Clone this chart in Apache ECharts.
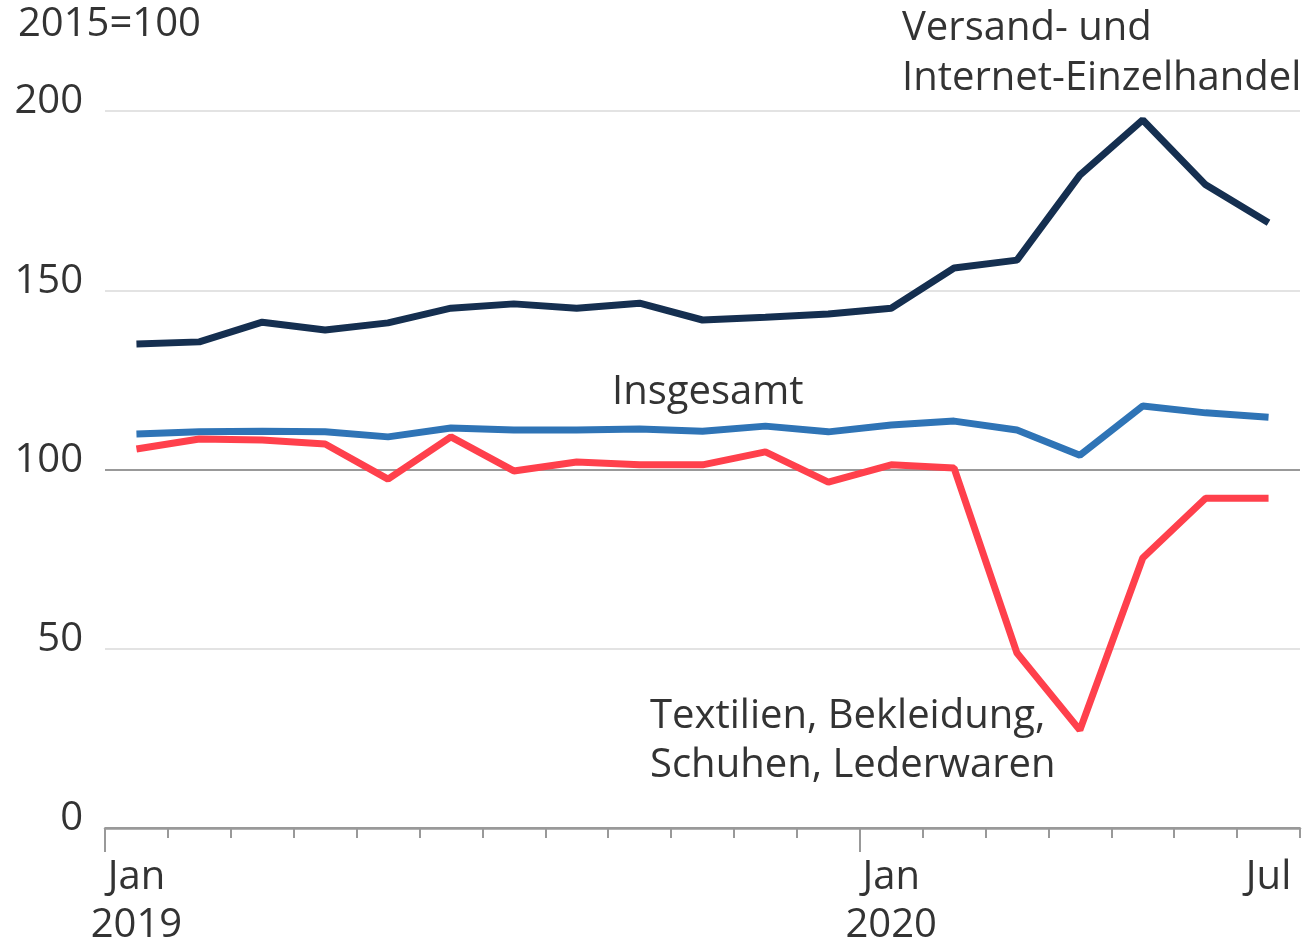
<!DOCTYPE html>
<html>
<head>
<meta charset="utf-8">
<script src="https://cdn.jsdelivr.net/npm/echarts@6/dist/echarts.min.js"></script>
<style>
    html, body { margin: 0; padding: 0; background: #fff; }
    #myChart { width: 1308px; height: 941px; }
</style>
</head>
<body>
<div id="myChart"></div>
<script>
// months Jan 2019 .. Jul 2020
var months = ['Jan\n2019', 'Feb', 'Mär', 'Apr', 'Mai', 'Jun', 'Jul', 'Aug', 'Sep', 'Okt', 'Nov', 'Dez',
    'Jan\n2020', 'Feb', 'Mär', 'Apr', 'Mai', 'Jun', 'Jul'];
var shownLabels = [0, 12, 18];

var versand = [135.0, 135.6, 141.1, 138.9, 140.9, 145.0, 146.2, 145.0, 146.4, 141.7, 142.5, 143.4,
    145.0, 156.2, 158.4, 182.1, 197.5, 179.4, 168.8];
var insgesamt = [109.9, 110.5, 110.7, 110.5, 109.1, 111.6, 111.0, 111.0, 111.3, 110.7, 112.1, 110.5,
    112.4, 113.5, 111.0, 104.0, 117.7, 115.8, 114.6];
var textilien = [105.7, 108.5, 108.2, 107.1, 97.3, 109.1, 99.6, 102.1, 101.3, 101.3, 104.9, 96.5,
    101.3, 100.4, 48.8, 27.3, 75.3, 92.0, 92.0];

var yTicks = [0, 50, 100, 150, 200];

var FONT = 'Open Sans';
var FONT_SIZE = 40;
var TEXT_COLOR = '#333';

function create_image() {
    var myChart = echarts.init(document.getElementById('myChart'));

    var plotLeft = 105, plotRight = 8;
    var plotWidth = 1308 - plotLeft - plotRight;
    // second (empty) grid covers Jan 2019 .. Dez 2019 only, so its two end ticks
    // land on the year boundaries -> the long ticks
    var yearGridRight = 1308 - plotLeft - plotWidth * 12 / 19;

    var option = {
        animation: false,
        textStyle: { fontFamily: FONT },
        grid: [
            { left: plotLeft, right: plotRight, top: 111, bottom: 113, outerBoundsMode: 'none', containLabel: false },
            { left: plotLeft, right: yearGridRight, top: 111, bottom: 113, outerBoundsMode: 'none', containLabel: false }
        ],
        xAxis: [
            {
                type: 'category',
                gridIndex: 0,
                data: months,
                boundaryGap: true,
                axisLine: { show: true, lineStyle: { color: '#999', width: 2.5 } },
                axisTick: { show: true, interval: 0, length: 10, lineStyle: { color: '#999', width: 2 } },
                axisLabel: {
                    interval: function (i) { return shownLabels.indexOf(i) >= 0; },
                    color: TEXT_COLOR,
                    fontSize: FONT_SIZE,
                    lineHeight: 48,
                    margin: 26,
                    fontFamily: FONT
                },
                splitLine: { show: false }
            },
            {
                type: 'category',
                gridIndex: 1,
                data: months.slice(0, 12),
                boundaryGap: true,
                axisLine: { show: false },
                axisTick: {
                    show: true,
                    interval: function (i) { return i === 0; },
                    length: 24,
                    lineStyle: { color: '#999', width: 2 }
                },
                axisLabel: { show: false },
                splitLine: { show: false }
            }
        ],
        yAxis: [
            {
                type: 'value',
                gridIndex: 0,
                min: yTicks[0],
                max: yTicks[yTicks.length - 1],
                interval: 50,
                axisLine: { show: false },
                axisTick: { show: false },
                axisLabel: {
                    color: TEXT_COLOR,
                    fontSize: FONT_SIZE,
                    fontFamily: FONT,
                    align: 'right',
                    verticalAlign: 'bottom',
                    lineHeight: 18,
                    margin: 22
                },
                splitLine: {
                    lineStyle: {
                        color: ['#999', '#e3e3e3', '#999', '#e3e3e3', '#e3e3e3'],
                        width: 2
                    }
                }
            },
            {
                type: 'value',
                gridIndex: 1,
                min: 0,
                max: 1,
                show: false
            }
        ],
        graphic: [
            { type: 'text', left: 18, top: 5, style: { text: '2015=100', fontSize: FONT_SIZE, fontFamily: FONT, fill: TEXT_COLOR } },
            { type: 'text', left: 902, top: 4, style: { text: 'Versand- und\nInternet-Einzelhandel', fontSize: FONT_SIZE, lineHeight: 50, fontFamily: FONT, fill: TEXT_COLOR } },
            { type: 'text', left: 612, top: 373, style: { text: 'Insgesamt', fontSize: FONT_SIZE, fontFamily: FONT, fill: TEXT_COLOR } },
            { type: 'text', left: 650, top: 692, style: { text: 'Textilien, Bekleidung,\nSchuhen, Lederwaren', fontSize: FONT_SIZE, lineHeight: 49, fontFamily: FONT, fill: TEXT_COLOR } }
        ],
        series: [
            {
                name: 'Versand- und Internet-Einzelhandel',
                type: 'line',
                data: versand,
                symbol: 'none',
                lineStyle: { color: '#152f50', width: 7 }
            },
            {
                name: 'Insgesamt',
                type: 'line',
                data: insgesamt,
                symbol: 'none',
                lineStyle: { color: '#2f74b6', width: 7 }
            },
            {
                name: 'Textilien, Bekleidung, Schuhen, Lederwaren',
                type: 'line',
                data: textilien,
                symbol: 'none',
                lineStyle: { color: '#ff404c', width: 7 }
            }
        ]
    };
    myChart.setOption(option);
}

create_image();
</script>
</body>
</html>
